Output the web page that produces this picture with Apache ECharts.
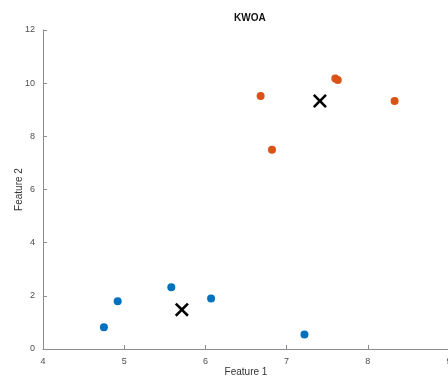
<!DOCTYPE html>
<html lang="en">
<head>
    <meta charset="UTF-8">
    <title>KWOA</title>
    <script src="https://cdn.jsdelivr.net/npm/echarts@6/dist/echarts.min.js"></script>
</head>
<body style="margin:0">
<div id="main" style="width: 448px;height:381px;"></div>
<script>
    // cluster 1 (blue) and cluster 2 (orange)
    var cluster1 = [[4.75, 0.82], [4.92, 1.80], [5.58, 2.32], [6.07, 1.90], [7.22, 0.55]];
    var cluster2 = [[6.68, 9.52], [6.82, 7.50], [7.60, 10.18], [7.63, 10.12], [8.33, 9.33]];
    var centroids = [[5.71, 1.48], [7.41, 9.33]];

    var xTicks = [4, 5, 6, 7, 8, 9];
    var yTicks = [0, 2, 4, 6, 8, 10, 12];

    var myChart = echarts.init(document.getElementById('main'));

    var font = 'Liberation Sans, Arial, sans-serif';
    var crossPath = 'path://M0,1.3L1.3,0L5,3.7L8.7,0L10,1.3L6.3,5L10,8.7L8.7,10L5,6.3L1.3,10L0,8.7L3.7,5Z';

    var axisCommon = {
        axisLine: {show: true, lineStyle: {color: '#8c8c8c', width: 1}},
        axisTick: {show: true, inside: true, length: 4, lineStyle: {color: '#8c8c8c'}},
        splitLine: {show: false},
        axisLabel: {color: '#4d4d4d', fontSize: 9, fontFamily: font},
        nameTextStyle: {color: '#333', fontSize: 10, fontFamily: font},
        nameMoveOverlap: false
    };

    var option = {
        animation: false,
        title: {
            text: 'KWOA',
            left: 229,
            top: 8,
            textStyle: {fontSize: 10, fontWeight: 'bold', color: '#111', fontFamily: font}
        },
        grid: {left: 43, right: -1, top: 30, bottom: 32, containLabel: false, outerBoundsMode: 'none'},
        xAxis: Object.assign({}, axisCommon, {
            type: 'value',
            min: xTicks[0], max: xTicks[xTicks.length - 1], interval: 1,
            name: 'Feature 1', nameLocation: 'middle', nameGap: 18,
            axisLabel: Object.assign({}, axisCommon.axisLabel, {margin: 8})
        }),
        yAxis: Object.assign({}, axisCommon, {
            type: 'value',
            min: yTicks[0], max: yTicks[yTicks.length - 1], interval: 2,
            name: 'Feature 2', nameLocation: 'middle', nameGap: 19,
            axisLabel: Object.assign({}, axisCommon.axisLabel, {margin: 8})
        }),
        series: [{
            type: 'scatter',
            data: cluster1,
            symbolSize: 8,
            itemStyle: {color: '#0072BD', opacity: 1}
        }, {
            type: 'scatter',
            data: cluster2,
            symbolSize: 8,
            itemStyle: {color: '#D95319', opacity: 1}
        }, {
            type: 'scatter',
            data: centroids,
            symbol: crossPath,
            symbolSize: 14,
            itemStyle: {color: '#000', opacity: 1},
            z: 5
        }]
    };

    myChart.setOption(option);
</script>
</body>
</html>
